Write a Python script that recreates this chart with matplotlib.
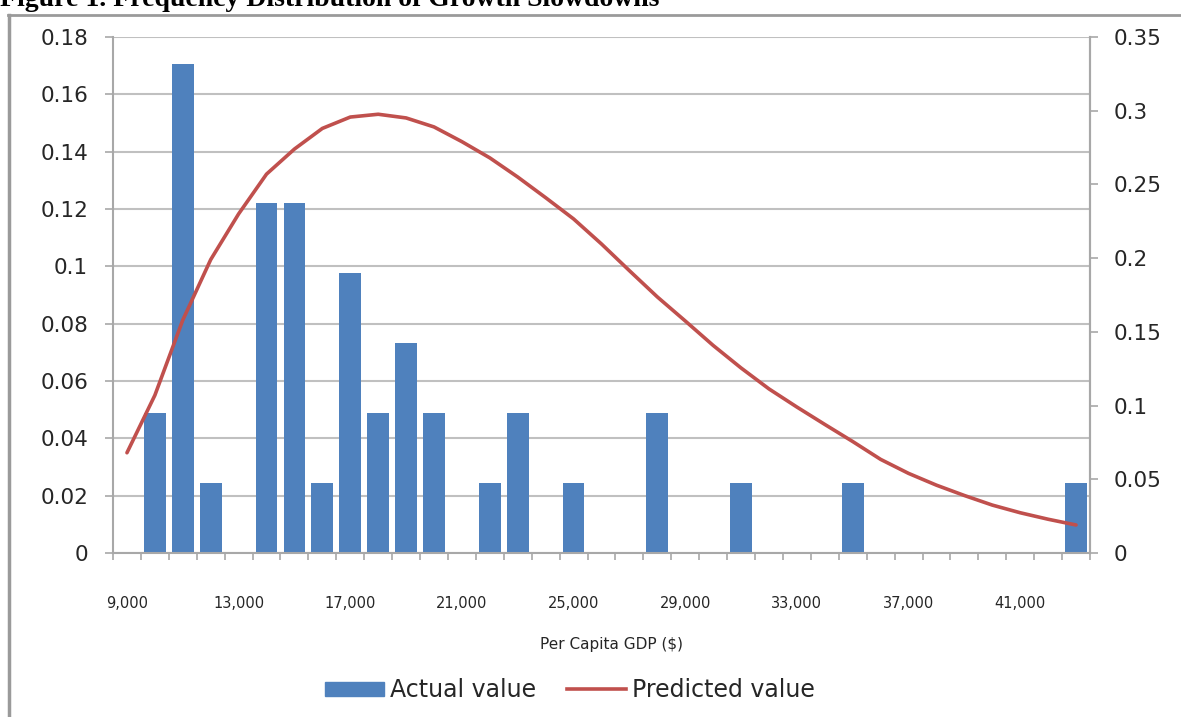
import matplotlib
matplotlib.use("Agg")
import matplotlib.pyplot as plt
from matplotlib.lines import Line2D
from matplotlib.ticker import FixedLocator, FuncFormatter

# per capita GDP bins ($)
gdp_bins = [9000, 10000, 11000, 12000, 13000, 14000, 15000, 16000, 17000,
            18000, 19000, 20000, 21000, 22000, 23000, 24000, 25000, 26000,
            27000, 28000, 29000, 30000, 31000, 32000, 33000, 34000, 35000,
            36000, 37000, 38000, 39000, 40000, 41000, 42000, 43000]

# share of slowdowns in each bin (left axis)
actual = [0, 0.0488, 0.1707, 0.0244, 0, 0.122, 0.122, 0.0244, 0.0976,
          0.0488, 0.0732, 0.0488, 0, 0.0244, 0.0488, 0, 0.0244, 0,
          0, 0.0488, 0, 0, 0.0244, 0, 0, 0, 0.0244,
          0, 0, 0, 0, 0, 0, 0, 0.0244]

# fitted density (right axis)
predicted = [0.068, 0.107, 0.158, 0.199, 0.230, 0.257, 0.274, 0.288, 0.2957,
             0.2976, 0.2951, 0.289, 0.279, 0.268, 0.255, 0.241, 0.2266, 0.2096,
             0.1915, 0.1737, 0.1574, 0.1408, 0.1255, 0.1113, 0.099, 0.0872, 0.0756,
             0.0635, 0.054, 0.046, 0.039, 0.0325, 0.0273, 0.0229, 0.019]

left_ticks = [0, 0.02, 0.04, 0.06, 0.08, 0.1, 0.12, 0.14, 0.16, 0.18]
right_ticks = [0, 0.05, 0.1, 0.15, 0.2, 0.25, 0.3, 0.35]
label_every = 4

BAR_COLOR = "#4F81BD"
LINE_COLOR = "#C0504D"
GRID_COLOR = "#c0c0c0"
AXIS_COLOR = "#a8a8a8"
TEXT_COLOR = "#262626"

W, H = 1181, 717
fig = plt.figure(figsize=(W / 100, H / 100), dpi=100)
ax = fig.add_axes([113 / W, 1 - 553 / H, (1090 - 113) / W, (553 - 37) / H])

xs = list(range(len(gdp_bins)))
ax.bar(xs, actual, width=0.78, color=BAR_COLOR, zorder=2)
ax.set_xlim(-0.5, len(gdp_bins) - 0.5)
ax.set_ylim(0, 0.18)

# horizontal gridlines from left axis ticks
ax.yaxis.set_major_locator(FixedLocator(left_ticks))
ax.yaxis.set_major_formatter(FuncFormatter(lambda v, _: f"{v:g}"))
ax.grid(axis="y", color=GRID_COLOR, lw=1.5, zorder=0)
ax.set_axisbelow(True)

# category labels every 4th bin, tick marks at every boundary
ax.set_xticks(xs[::label_every])
ax.set_xticklabels([f"{v:,}" for v in gdp_bins[::label_every]])
ax.set_xticks([i - 0.5 for i in range(len(gdp_bins) + 1)], minor=True)
ax.tick_params(axis="x", which="major", length=0, pad=31,
               labelsize=10.5, labelcolor=TEXT_COLOR)
ax.tick_params(axis="x", which="minor", length=5, width=1.2, color=AXIS_COLOR)
ax.tick_params(axis="y", length=6, width=1.2, color=AXIS_COLOR, pad=12,
               labelsize=15.5, labelcolor=TEXT_COLOR)

ax.spines["top"].set_visible(False)
for side in ("left", "bottom", "right"):
    ax.spines[side].set_color(AXIS_COLOR)
    ax.spines[side].set_linewidth(1.5)

ax2 = ax.twinx()
ax2.plot(xs, predicted, color=LINE_COLOR, lw=2.6, solid_capstyle="round", zorder=3)
ax2.set_ylim(0, 0.35)
ax2.yaxis.set_major_locator(FixedLocator(right_ticks))
ax2.yaxis.set_major_formatter(FuncFormatter(lambda v, _: f"{v:g}"))
ax2.tick_params(axis="y", length=6, width=1.2, color=AXIS_COLOR, pad=11,
                labelsize=15.5, labelcolor=TEXT_COLOR)
for side in ("top", "left", "bottom"):
    ax2.spines[side].set_visible(False)
ax2.spines["right"].set_color(AXIS_COLOR)
ax2.spines["right"].set_linewidth(1.5)

fig.text(611 / W, 1 - 645 / H, "Per Capita GDP ($)", ha="center", va="center",
         fontsize=11, color=TEXT_COLOR)

handles = [plt.Rectangle((0, 0), 1, 1, color=BAR_COLOR),
           Line2D([0], [0], color=LINE_COLOR, lw=2.6)]
fig.legend(handles, ["Actual value", "Predicted value"], loc="center",
           bbox_to_anchor=(570 / W, 1 - 690 / H), ncol=2, frameon=False,
           fontsize=17, handlelength=2.5, handleheight=0.55,
           handletextpad=0.25, columnspacing=1.3, labelcolor=TEXT_COLOR)

# chart-area border (top and left edges visible in the crop)
fig.add_artist(Line2D([8 / W, 1], [1 - 15 / H, 1 - 15 / H],
                      transform=fig.transFigure, color="#9a9a9a", lw=2))
fig.add_artist(Line2D([9 / W, 9 / W], [0, 1 - 15 / H],
                      transform=fig.transFigure, color="#9a9a9a", lw=2.5))

# page caption, clipped at the top of the crop as in the source scan
fig.text(0, 1 - 6 / H, "Figure 1. Frequency Distribution of Growth Slowdowns",
         ha="left", va="baseline", fontsize=20, fontweight="bold",
         family="Liberation Serif", color="black")

fig.savefig("out.png", dpi=100)
